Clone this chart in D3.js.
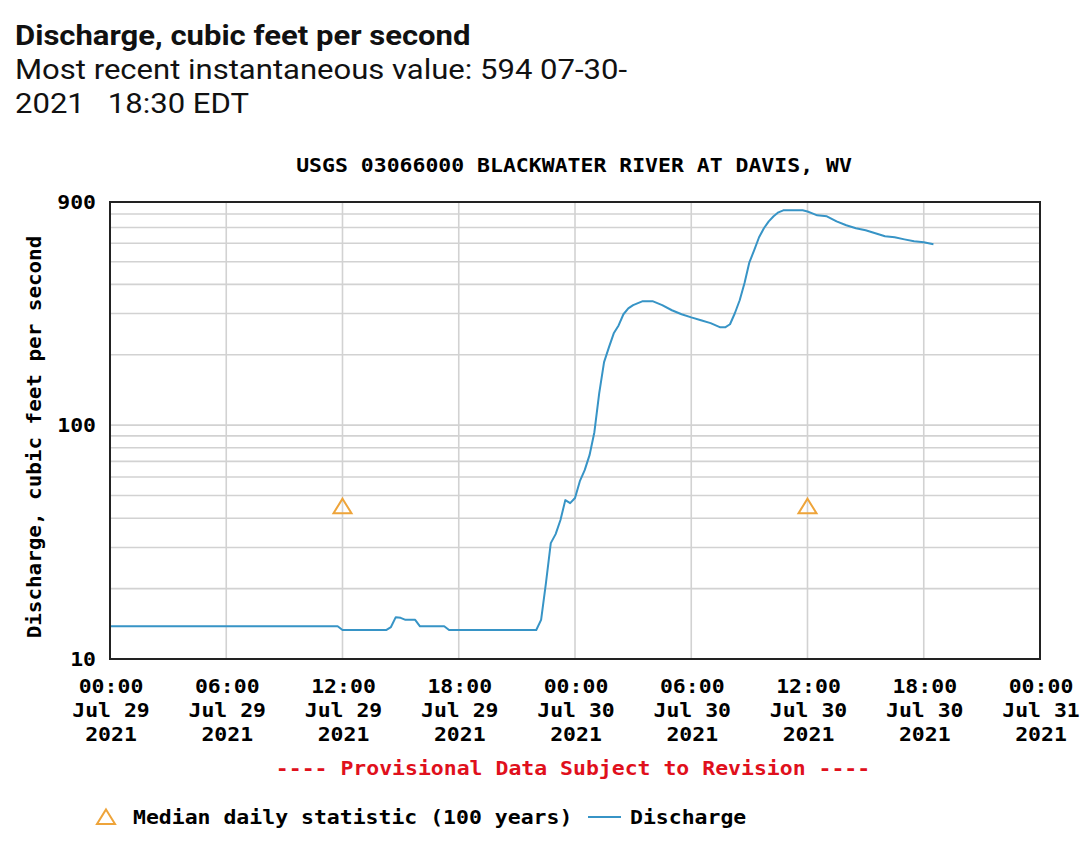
<!DOCTYPE html>
<html>
<head>
<meta charset="utf-8">
<script src="https://cdn.jsdelivr.net/npm/d3@7"></script>
<style>
  html, body { margin: 0; padding: 0; background: #fff; }
  svg { display: block; }
  .mono { font-family: "DejaVu Sans Mono", "Liberation Mono", monospace; font-weight: bold; font-size: 19px; }
</style>
</head>
<body>
<div id="chart"></div>
<script>
// ---------- data ----------
const times = [
  "2021-07-29 00:00","2021-07-29 11:45","2021-07-29 12:00","2021-07-29 14:15","2021-07-29 14:30",
  "2021-07-29 14:45","2021-07-29 15:00","2021-07-29 15:15","2021-07-29 15:45","2021-07-29 16:00",
  "2021-07-29 17:15","2021-07-29 17:30","2021-07-29 22:00","2021-07-29 22:15","2021-07-29 22:30",
  "2021-07-29 22:45","2021-07-29 23:00","2021-07-29 23:15","2021-07-29 23:30","2021-07-29 23:45",
  "2021-07-30 00:00","2021-07-30 00:15","2021-07-30 00:30","2021-07-30 00:45","2021-07-30 01:00",
  "2021-07-30 01:15","2021-07-30 01:30","2021-07-30 01:45","2021-07-30 02:00","2021-07-30 02:15",
  "2021-07-30 02:30","2021-07-30 02:45","2021-07-30 03:00","2021-07-30 03:30","2021-07-30 04:00",
  "2021-07-30 04:30","2021-07-30 05:00","2021-07-30 05:30","2021-07-30 06:00","2021-07-30 06:30",
  "2021-07-30 07:00","2021-07-30 07:30","2021-07-30 07:45","2021-07-30 08:00","2021-07-30 08:15",
  "2021-07-30 08:30","2021-07-30 08:45","2021-07-30 09:00","2021-07-30 09:15","2021-07-30 09:30",
  "2021-07-30 09:45","2021-07-30 10:00","2021-07-30 10:15","2021-07-30 10:30","2021-07-30 10:45",
  "2021-07-30 11:45","2021-07-30 12:00","2021-07-30 12:15","2021-07-30 12:30","2021-07-30 13:00",
  "2021-07-30 13:30","2021-07-30 14:00","2021-07-30 14:30","2021-07-30 15:00","2021-07-30 15:30",
  "2021-07-30 16:00","2021-07-30 16:30","2021-07-30 17:00","2021-07-30 17:30","2021-07-30 18:00",
  "2021-07-30 18:30"
];
const discharge = [
  13.8, 13.8, 13.3, 13.3, 13.7,
  15.1, 15.0, 14.7, 14.7, 13.8,
  13.8, 13.3, 13.3, 14.7, 21.1,
  31.3, 34.2, 39.3, 47.8, 46.4,
  48.8, 57.6, 64.2, 74.4, 93.3,
  137, 186, 215, 247, 267,
  298, 316, 326, 339, 339,
  326, 310, 298, 289, 281,
  273, 262, 262, 270, 301,
  342, 405, 497, 560, 636,
  695, 744, 782, 813, 829,
  829, 820, 805, 789, 782,
  744, 716, 695, 681, 662,
  642, 636, 623, 611, 605,
  594
];
const medianTimes = ["2021-07-29 12:00", "2021-07-30 12:00"];
const medianValues = [45, 45];
const yLabelTicks = [10, 100, 900];
const yMinorTicks = [20, 30, 40, 50, 60, 70, 80, 90, 200, 300, 400, 500, 600, 700, 800];
const xStart = "2021-07-29 00:00";
const xEnd = "2021-07-31 00:00";

const chartTitle = "USGS 03066000 BLACKWATER RIVER AT DAVIS, WV";
const yTitle = "Discharge, cubic feet per second";
const provisional = "---- Provisional Data Subject to Revision ----";
const headerLines = ["Discharge, cubic feet per second",
                     "Most recent instantaneous value: 594 07-30-",
                     "2021   18:30 EDT"];
const legendMedian = "Median daily statistic (100 years)";
const legendDischarge = "Discharge";

// ---------- setup ----------
const W = 1080, H = 846;
const SX = 1.13;   // horizontal stretch of the reference's lettering
const plot = { left: 110, right: 1040, top: 202, bottom: 659 };
const parse = d3.timeParse("%Y-%m-%d %H:%M");
const series = times.map((t, i) => ({ t: parse(t), v: discharge[i] }));
const medians = medianTimes.map((t, i) => ({ t: parse(t), v: medianValues[i] }));

const x = d3.scaleTime().domain([parse(xStart), parse(xEnd)]).range([plot.left, plot.right]);
const y = d3.scaleLog().domain([10, 900]).range([plot.bottom, plot.top]);

const svg = d3.select("#chart").append("svg").attr("width", W).attr("height", H);

function mono(parent, px, py, anchor, str) {
  return parent.append("text").attr("class", "mono")
    .attr("transform", `translate(${px},${py}) scale(${SX},1)`)
    .attr("text-anchor", anchor)
    .text(str);
}

// header
const head = svg.append("g");
const headerBase = [44.5, 78.5, 113];
headerLines.forEach((s, i) => {
  head.append("text")
    .attr("transform", `translate(15,${headerBase[i]}) scale(1.15,1)`)
    .attr("xml:space", "preserve")
    .style("white-space", "pre")
    .style("font-family", "Roboto, 'Noto Sans', sans-serif")
    .style("font-size", "27px")
    .style("font-weight", i === 0 ? "bold" : "normal")
    .style("fill", "#111")
    .text(s);
});

// chart title
mono(svg, 574, 172, "middle", chartTitle);

// gridlines
const grid = svg.append("g").attr("stroke", "#d2d2d2").attr("stroke-width", 1.6);
const xTicks = d3.timeHour.every(6).range(parse(xStart), d3.timeMinute.offset(parse(xEnd), 1));
grid.selectAll("line.v").data(xTicks.slice(1, -1)).join("line")
  .attr("x1", d => x(d)).attr("x2", d => x(d))
  .attr("y1", plot.top).attr("y2", plot.bottom);
grid.selectAll("line.h").data(yMinorTicks.concat([100])).join("line")
  .attr("x1", plot.left).attr("x2", plot.right)
  .attr("y1", d => y(d)).attr("y2", d => y(d));

// discharge line
const line = d3.line().x(d => x(d.t)).y(d => y(d.v)).curve(d3.curveLinear);
svg.append("path").datum(series)
  .attr("d", line)
  .attr("fill", "none")
  .attr("stroke", "#3794c6")
  .attr("stroke-width", 2)
  .attr("stroke-linejoin", "round");

// median triangles
const tri = (cx, cy) => `M${cx},${cy - 7.5} L${cx + 9},${cy + 7} L${cx - 9},${cy + 7} Z`;
svg.selectAll("path.median").data(medians).join("path")
  .attr("class", "median")
  .attr("d", d => tri(x(d.t), y(d.v)))
  .attr("fill", "none").attr("stroke", "#eea43a").attr("stroke-width", 2);

// plot border
svg.append("rect")
  .attr("x", plot.left).attr("y", plot.top)
  .attr("width", plot.right - plot.left).attr("height", plot.bottom - plot.top)
  .attr("fill", "none").attr("stroke", "#222").attr("stroke-width", 2);

// y tick labels
yLabelTicks.forEach(v => mono(svg, 96, y(v) + 7, "end", String(v)));

// x tick labels
const f1 = d3.timeFormat("%H:%M"), f2 = d3.timeFormat("%b %d"), f3 = d3.timeFormat("%Y");
xTicks.forEach(d => {
  [f1, f2, f3].forEach((f, i) => mono(svg, x(d) + 1, 693 + i * 24, "middle", f(d)));
});

// y title
svg.append("text").attr("class", "mono")
  .attr("transform", `translate(41,437) rotate(-90) scale(1.1,1)`)
  .attr("text-anchor", "middle")
  .text(yTitle);

// provisional
mono(svg, 573, 775, "middle", provisional).style("fill", "#e0101c");

// legend
const lg = svg.append("g");
lg.append("path").attr("d", tri(106, 817))
  .attr("fill", "none").attr("stroke", "#eea43a").attr("stroke-width", 2);
mono(lg, 133, 824, "start", legendMedian);
lg.append("line").attr("x1", 588).attr("x2", 621).attr("y1", 817).attr("y2", 817)
  .attr("stroke", "#3794c6").attr("stroke-width", 2);
mono(lg, 630, 824, "start", legendDischarge);
</script>
</body>
</html>
